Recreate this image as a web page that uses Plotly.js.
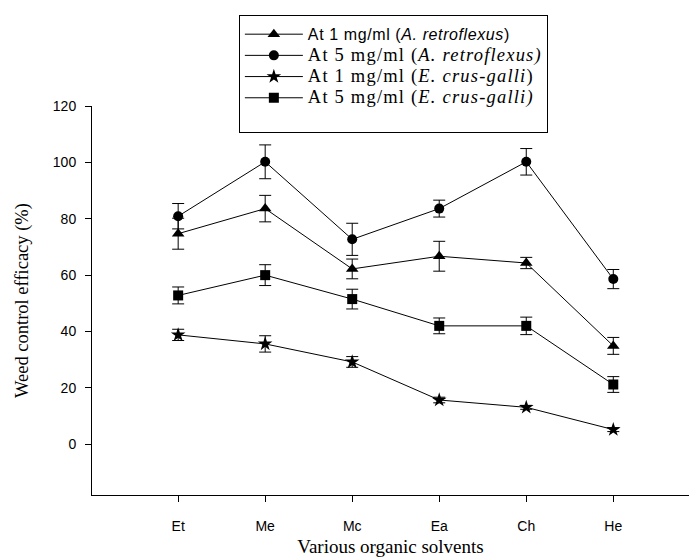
<!DOCTYPE html>
<html>
<head>
<meta charset="utf-8">
<script src="https://cdn.plot.ly/plotly-3.0.1.min.js"></script>
<style>html,body{margin:0;padding:0;background:#fff;}#chart{width:689px;height:557px;}</style>
</head>
<body>
<div id="chart"></div>
<script>
const solvents = ["Et", "Me", "Mc", "Ea", "Ch", "He"];

const a1Values = [74.7, 83.6, 62.2, 66.7, 64.3, 34.9];
const a1Errors = [5.5, 4.7, 3.5, 5.3, 2.0, 3.0];

const a5Values = [80.9, 100.2, 72.7, 83.6, 100.2, 58.6];
const a5Errors = [4.5, 6.0, 5.7, 3.0, 4.7, 3.4];

const e1Values = [38.8, 35.6, 29.2, 15.7, 13.1, 5.2];
const e1Errors = [2.0, 2.9, 1.9, 1.0, 0.7, 0.7];

const e5Values = [52.8, 60.0, 51.5, 42.0, 42.0, 21.2];
const e5Errors = [3.0, 3.7, 3.5, 2.8, 3.1, 2.8];

const yTicks = [0, 20, 40, 60, 80, 100, 120];

const serif = '"Liberation Serif", "Times New Roman", Times, serif';
const sans = '"Liberation Sans", Arial, Helvetica, sans-serif';

const seriesNames = [
  '<span style="font-family:Liberation Sans, Arial, sans-serif;font-size:16px;letter-spacing:0.6px">At 1 mg/ml (<i>A. retroflexus</i>)</span>',
  '<span style="font-size:18.5px;letter-spacing:1.2px">At 5 mg/ml (<i>A. retroflexus)</i></span>',
  '<span style="font-size:18.5px;letter-spacing:1.2px">At 1 mg/ml (<i>E. crus-galli</i>)</span>',
  '<span style="font-size:18.5px;letter-spacing:1.2px">At 5 mg/ml (<i>E. crus-galli)</i></span><br><span style="font-size:4px"> </span>'
];

function makeTrace(name, values, errors, symbol, size) {
  return {
    type: 'scatter',
    mode: 'lines+markers',
    name: name,
    x: solvents,
    y: values,
    line: {color: '#000', width: 1},
    marker: {symbol: symbol, size: size, color: '#000', line: {color: '#000', width: 0}},
    error_y: {type: 'data', array: errors, visible: true, color: '#000', thickness: 1, width: 6}
  };
}

const data = [
  makeTrace(seriesNames[0], a1Values, a1Errors, 'triangle-up', 11),
  makeTrace(seriesNames[1], a5Values, a5Errors, 'circle', 10),
  makeTrace(seriesNames[2], e1Values, e1Errors, 'star', 11),
  makeTrace(seriesNames[3], e5Values, e5Errors, 'square', 10)
];

const layout = {
  width: 689,
  height: 557,
  margin: {l: 92, r: 0, t: 106, b: 62},
  paper_bgcolor: '#fff',
  plot_bgcolor: '#fff',
  showlegend: true,
  font: {family: sans, color: '#000'},
  xaxis: {
    type: 'category',
    range: [-0.99, 5.87],
    showline: true,
    linecolor: '#000',
    linewidth: 1,
    showgrid: false,
    zeroline: false,
    ticks: 'outside',
    ticklen: 6,
    tickcolor: '#000',
    tickfont: {family: sans, size: 14, color: '#000'},
    ticklabelstandoff: 12,
    title: {text: 'Various organic solvents', font: {family: serif, size: 19, color: '#000'}, standoff: 11}
  },
  yaxis: {
    range: [-18, 120],
    tickvals: yTicks,
    ticktext: yTicks.map(String),
    showline: true,
    linecolor: '#000',
    linewidth: 1,
    showgrid: false,
    zeroline: false,
    ticks: 'outside',
    ticklen: 6,
    tickcolor: '#000',
    tickfont: {family: sans, size: 14, color: '#000'},
    ticklabelstandoff: 6,
    title: {text: 'Weed control efficacy (%)', font: {family: serif, size: 18.5, color: '#000'}, standoff: 19}
  },
  legend: {
    x: 0.246,
    xanchor: 'left',
    y: 1.234,
    yanchor: 'top',
    valign: 'top',
    bgcolor: '#fff',
    bordercolor: '#000',
    borderwidth: 1,
    font: {family: serif, size: 14, color: '#000'},
    itemwidth: 58,
    title: {text: ' ', font: {family: serif, size: 2, color: '#000'}}
  }
};

Plotly.newPlot('chart', data, layout, {displayModeBar: false, staticPlot: true});
</script>
</body>
</html>
